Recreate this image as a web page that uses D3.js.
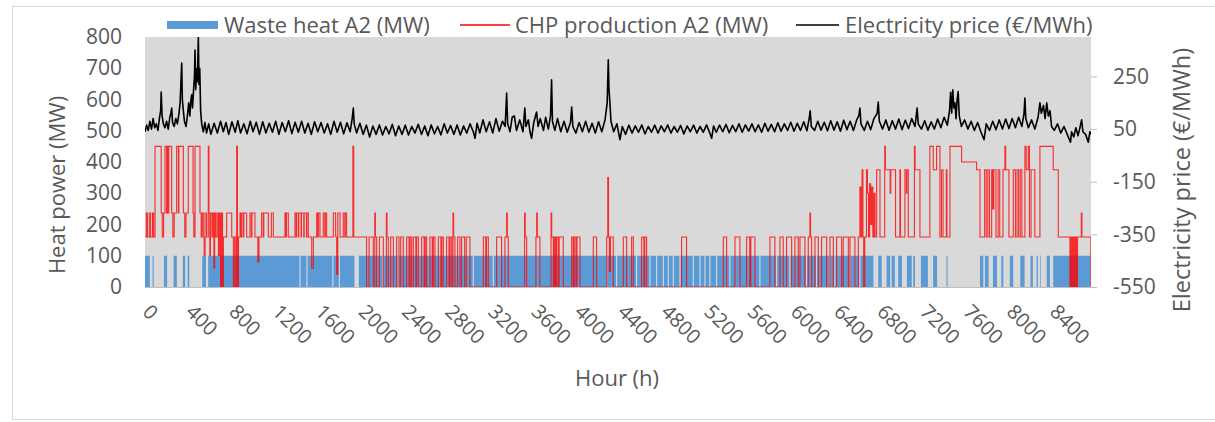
<!DOCTYPE html>
<html>
<head>
<meta charset="utf-8">
<script src="https://cdn.jsdelivr.net/npm/d3@7"></script>
<style>
  body { margin: 0; background: #fff; }
  text { font-family: "Open Sans", sans-serif; fill: #595959; }
</style>
</head>
<body>
<div class="chart"></div>
<script>
// ---- data ----
// hours where waste heat is on, [start, end]
var wasteOn = [[0,45],[70,80],[175,205],[265,295],[350,372],[395,410],[530,565],[585,1430],[1440,1495],[1505,1735],
  [1745,1795],[1805,1940],[1980,2200],[2212,2340],[2350,3035],[3045,3220],[3230,4270],[4280,4362],[4372,4547],
  [4557,4671],[4681,4733],[4743,4795],[4805,4841],[4851,4887],[4897,4949],[4959,5072],[5082,5134],[5144,5180],
  [5190,5226],[5236,5288],[5298,5411],[5421,5689],[5699,5844],[5854,5967],[5977,6121],[6131,6214],[6224,6338],
  [6348,6384],[6394,6523],[6533,6615],[6625,6745],[6790,6822],[6867,6900],[6914,6944],[6975,7010],[7055,7100],
  [7114,7130],[7185,7250],[7298,7335],[7422,7432],[7732,7763],[7778,7812],[7852,7890],[7930,7948],[8008,8040],
  [8105,8145],[8200,8222],[8256,8268],[8290,8296],[8350,8380],[8410,8755]];
var wasteMW = 100;

// CHP production, [hour, MW] held until next point
var chpSteps = [[0,160],[12,237],[22,160],[40,237],[52,160],[70,237],[80,160],[93,450],[150,237],[160,160],
  [172,237],[185,450],[200,237],[205,450],[215,237],[220,450],[247,237],[258,160],[270,237],[293,450],
  [310,237],[314,450],[355,237],[368,160],[380,237],[401,450],[445,237],[452,160],[463,450],[509,237],
  [520,160],[528,237],[540,160],[548,100],[556,237],[570,160],[586,450],[592,237],[600,100],[606,237],
  [620,160],[630,237],[638,60],[645,237],[655,160],[668,237],[680,100],[690,237],[700,0],[708,237],
  [718,0],[726,160],[756,237],[803,160],[818,0],[830,160],[842,0],[849,450],[856,0],[866,160],
  [880,237],[890,160],[895,237],[910,160],[915,237],[941,160],[972,237],[985,160],[990,237],[1018,160],
  [1045,80],[1055,160],[1080,237],[1095,160],[1100,237],[1142,160],[1170,237],[1188,160],[1296,237],[1305,160],
  [1310,237],[1327,160],[1389,237],[1400,160],[1404,237],[1420,160],[1424,237],[1445,160],[1449,237],[1470,160],
  [1474,237],[1495,160],[1499,237],[1512,160],[1544,60],[1559,160],[1590,237],[1600,160],[1605,237],[1620,160],
  [1651,237],[1665,160],[1670,237],[1682,160],[1744,237],[1765,160],[1775,40],[1785,237],[1806,160],[1836,237],
  [1850,160],[1855,237],[1867,160],[1925,450],[1933,160],[2052,0],[2075,160],[2114,0],[2128,237],[2134,160],
  [2145,0],[2170,160],[2207,0],[2235,237],[2241,160],[2253,0],[2275,160],[2300,0],[2330,160],[2352,0],
  [2368,160],[2392,0],[2423,160],[2445,0],[2455,160],[2469,0],[2485,160],[2508,0],[2515,160],[2531,0],
  [2562,160],[2585,0],[2595,160],[2608,0],[2639,160],[2660,0],[2670,160],[2685,0],[2716,160],[2740,0],
  [2748,160],[2762,0],[2793,160],[2815,0],[2825,160],[2840,0],[2852,237],[2858,160],[2870,0],[2895,160],
  [2917,0],[2932,160],[2960,0],[2975,160],[3009,0],[3133,160],[3155,0],[3162,160],[3179,0],[3256,160],
  [3302,0],[3333,160],[3349,237],[3355,160],[3364,0],[3515,237],[3521,160],[3534,0],[3620,160],[3627,237],
  [3633,160],[3657,0],[3760,237],[3766,160],[3781,0],[3790,160],[3800,0],[3810,160],[3825,0],[3835,160],
  [3873,0],[3951,160],[3965,0],[3975,160],[3990,0],[4000,160],[4028,0],[4151,160],[4182,0],[4275,160],
  [4285,350],[4292,160],[4300,50],[4310,160],[4336,0],[4429,160],[4460,0],[4506,160],[4522,0],[4599,160],
  [4620,0],[4628,160],[4645,0],[4969,160],[5015,0],[5355,160],[5386,0],[5463,160],[5509,0],[5571,160],
  [5600,0],[5610,160],[5648,0],[5787,160],[5833,0],[5880,160],[5910,0],[5941,160],[5988,0],[6018,160],
  [6049,0],[6065,160],[6111,0],[6142,160],[6157,237],[6163,160],[6173,0],[6204,160],[6235,0],[6265,160],
  [6312,0],[6343,160],[6374,0],[6404,160],[6451,0],[6466,160],[6513,0],[6528,160],[6574,0],[6605,160],
  [6620,320],[6630,160],[6640,375],[6648,160],[6655,0],[6665,160],[6681,375],[6690,300],[6700,160],[6710,330],
  [6720,200],[6730,320],[6740,160],[6750,300],[6760,160],[6775,375],[6806,160],[6850,450],[6856,375],[6900,300],
  [6906,375],[6950,160],[6990,375],[6996,160],[7037,375],[7050,300],[7055,375],[7068,160],[7125,450],[7131,375],
  [7176,160],[7268,450],[7299,375],[7330,450],[7361,160],[7375,375],[7390,160],[7420,375],[7426,160],[7454,450],
  [7562,400],[7700,375],[7732,160],[7775,375],[7790,160],[7805,375],[7820,160],[7840,375],[7850,250],[7860,375],
  [7880,160],[7900,375],[7915,160],[7945,375],[7963,450],[7970,375],[8000,160],[8040,375],[8060,160],[8075,375],
  [8090,160],[8105,375],[8120,160],[8148,450],[8160,375],[8179,450],[8190,160],[8205,375],[8240,160],[8287,450],
  [8410,375],[8457,160],[8565,0],[8575,160],[8585,0],[8595,160],[8605,0],[8615,160],[8625,0],[8635,160],
  [8670,237],[8676,160],[8759,0],[8760,0]];

// electricity price, [hour, EUR/MWh]
var pricePts = [[0,40],[15,65],[30,45],[45,80],[60,50],[75,90],[90,55],[105,70],[120,45],[135,95],
  [145,120],[150,191],[158,100],[170,70],[185,55],[200,80],[215,50],[230,95],[240,110],[247,130],
  [255,75],[270,60],[285,90],[300,70],[315,110],[325,150],[333,230],[340,301],[346,160],[355,120],
  [365,80],[380,60],[395,110],[405,150],[415,100],[425,160],[432,180],[440,130],[450,200],[458,250],
  [463,350],[470,200],[478,280],[485,230],[490,330],[494,400],[500,220],[507,280],[515,120],[525,70],
  [540,40],[555,75],[570,35],[590,70],[610,30],[640,72],[670,35],[700,80],[725,40],[750,75],
  [775,30],[805,78],[835,38],[860,82],[885,35],[915,70],[945,32],[975,80],[1000,40],[1030,76],
  [1060,30],[1090,78],[1120,35],[1150,72],[1180,38],[1210,80],[1240,30],[1270,75],[1300,40],[1330,82],
  [1360,33],[1390,76],[1420,38],[1450,80],[1480,35],[1510,72],[1540,30],[1570,78],[1600,40],[1630,75],
  [1660,35],[1690,70],[1720,30],[1750,80],[1780,38],[1810,76],[1840,32],[1870,74],[1900,40],[1920,95],
  [1929,130],[1937,70],[1960,35],[1990,72],[2020,30],[2050,65],[2080,20],[2110,62],[2140,30],[2170,66],
  [2200,28],[2230,60],[2260,32],[2290,68],[2320,25],[2350,62],[2380,30],[2410,65],[2440,28],[2470,60],
  [2500,35],[2530,68],[2560,30],[2590,62],[2620,25],[2650,66],[2680,32],[2710,60],[2740,28],[2770,70],
  [2800,35],[2830,64],[2860,30],[2890,66],[2920,28],[2950,62],[2980,35],[3010,70],[3040,40],[3056,15],
  [3075,72],[3100,35],[3130,85],[3160,40],[3190,78],[3220,35],[3250,90],[3280,42],[3310,80],[3335,60],
  [3349,187],[3358,70],[3380,40],[3400,95],[3420,100],[3440,45],[3470,85],[3500,40],[3517,130],[3527,60],
  [3550,85],[3565,40],[3580,15],[3600,75],[3626,115],[3640,60],[3660,90],[3690,45],[3710,95],[3735,50],
  [3755,100],[3765,237],[3773,80],[3795,45],[3820,90],[3850,40],[3880,80],[3910,38],[3940,75],[3951,134],
  [3962,60],[3990,35],[4020,75],[4050,40],[4080,80],[4110,38],[4140,72],[4170,35],[4200,78],[4230,40],
  [4260,85],[4280,150],[4290,313],[4296,206],[4305,150],[4315,80],[4340,40],[4370,70],[4398,10],[4420,60],
  [4450,30],[4480,65],[4510,35],[4540,62],[4570,38],[4600,66],[4630,32],[4660,60],[4690,38],[4720,65],
  [4750,35],[4780,62],[4810,40],[4840,66],[4870,35],[4900,60],[4930,38],[4960,64],[4990,32],[5020,62],
  [5050,40],[5080,65],[5110,35],[5140,60],[5170,38],[5200,66],[5230,35],[5247,15],[5265,62],[5290,38],
  [5320,65],[5350,40],[5380,68],[5410,36],[5440,64],[5470,40],[5500,70],[5530,38],[5560,66],[5590,42],
  [5620,70],[5650,40],[5680,66],[5710,38],[5740,72],[5770,42],[5800,68],[5830,40],[5860,74],[5890,42],
  [5920,70],[5950,45],[5980,76],[6010,42],[6040,72],[6070,45],[6100,78],[6130,44],[6150,90],[6160,120],
  [6170,60],[6200,45],[6230,80],[6260,46],[6290,76],[6320,44],[6350,82],[6380,46],[6410,78],[6440,42],
  [6470,84],[6500,48],[6530,80],[6560,45],[6590,85],[6610,100],[6620,130],[6630,70],[6660,45],[6690,80],
  [6720,48],[6750,90],[6780,110],[6790,153],[6800,80],[6830,50],[6860,85],[6890,46],[6920,82],[6950,50],
  [6980,88],[7010,48],[7040,84],[7070,52],[7100,90],[7130,60],[7150,130],[7160,70],[7190,50],[7220,82],
  [7250,46],[7280,78],[7310,50],[7340,88],[7370,55],[7400,95],[7430,65],[7450,120],[7460,190],[7470,110],
  [7480,199],[7490,130],[7500,150],[7510,90],[7520,160],[7530,193],[7540,100],[7560,60],[7590,85],[7620,50],
  [7650,80],[7680,45],[7710,75],[7740,40],[7770,10],[7790,70],[7820,45],[7850,80],[7880,48],[7910,85],
  [7940,50],[7970,88],[8000,52],[8030,90],[8060,55],[8090,95],[8120,60],[8140,110],[8148,168],[8156,90],
  [8180,55],[8210,85],[8240,50],[8270,95],[8287,150],[8300,110],[8320,140],[8335,90],[8350,150],[8365,100],
  [8380,120],[8395,60],[8420,45],[8450,70],[8480,35],[8510,60],[8540,30],[8570,0],[8580,40],[8600,20],
  [8620,55],[8640,25],[8660,60],[8673,85],[8685,40],[8710,30],[8735,0],[8750,40],[8760,30]];

var xTicks = [0,400,800,1200,1600,2000,2400,2800,3200,3600,4000,4400,4800,5200,5600,6000,6400,6800,7200,7600,8000,8400];
var leftTicks = [0,100,200,300,400,500,600,700,800];
var rightTicks = [-550,-350,-150,50,250];
var legendLabels = ["Waste heat A2 (MW)", "CHP production A2 (MW)", "Electricity price (\u20ac/MWh)"];

// ---- layout ----
var svgWidth = 1215;
var svgHeight = 422;
var plot = { left: 145, right: 1091, top: 37, bottom: 287 };

var svg = d3.select(".chart")
  .append("svg")
  .attr("width", svgWidth)
  .attr("height", svgHeight);

// outer chart border
svg.append("rect")
  .attr("x", 12.5).attr("y", 6.5)
  .attr("width", 1230).attr("height", 413)
  .attr("fill", "#fff")
  .attr("stroke", "#d9d9d9");

var xScale = d3.scaleLinear().domain([0, 8760]).range([plot.left, plot.right]);
var yLeft = d3.scaleLinear().domain([0, 800]).range([plot.bottom, plot.top]);
var yRight = d3.scaleLinear().domain([-550, 400]).range([plot.bottom, plot.top]);

svg.append("defs").append("clipPath").attr("id", "plotClip")
  .append("rect")
  .attr("x", plot.left).attr("y", plot.top)
  .attr("width", plot.right - plot.left).attr("height", plot.bottom - plot.top);

// plot area
svg.append("rect")
  .attr("x", plot.left).attr("y", plot.top)
  .attr("width", plot.right - plot.left).attr("height", plot.bottom - plot.top)
  .attr("fill", "#d9d9d9");

var marks = svg.append("g").attr("clip-path", "url(#plotClip)");

// waste heat columns
marks.selectAll("rect.waste")
  .data(wasteOn)
  .enter()
  .append("rect")
  .attr("class", "waste")
  .attr("x", d => xScale(d[0]))
  .attr("width", d => xScale(d[1]) - xScale(d[0]))
  .attr("y", yLeft(wasteMW))
  .attr("height", yLeft(0) - yLeft(wasteMW))
  .attr("fill", "#5b9bd5");

// CHP production
var chpLine = d3.line()
  .curve(d3.curveStepAfter)
  .x(d => xScale(d[0]))
  .y(d => yLeft(d[1]));

marks.append("path")
  .datum(chpSteps)
  .attr("d", chpLine)
  .attr("fill", "none")
  .attr("stroke", "#ff0000")
  .attr("stroke-opacity", 0.8)
  .attr("stroke-width", 1.1);

// electricity price (secondary axis)
var priceLine = d3.line()
  .x(d => xScale(d[0]))
  .y(d => yRight(d[1]));

marks.append("path")
  .datum(pricePts)
  .attr("d", priceLine)
  .attr("fill", "none")
  .attr("stroke", "#000")
  .attr("stroke-width", 1.6)
  .attr("stroke-linejoin", "round");

// x axis
var xAxis = svg.append("g")
  .attr("transform", `translate(0, ${plot.bottom})`)
  .call(d3.axisBottom(xScale).tickValues(xTicks).tickSize(0).tickFormat(d => String(d)));
xAxis.select(".domain").attr("stroke", "#bfbfbf");
xAxis.selectAll("text")
  .attr("x", 0).attr("y", 0)
  .attr("dy", "0.35em")
  .attr("text-anchor", "start")
  .attr("transform", "translate(1, 21) rotate(45)")
  .style("font-size", "20px")
  .attr("font-family", null);

// left axis
var leftAxis = svg.append("g")
  .attr("transform", `translate(${plot.left}, 0)`)
  .call(d3.axisLeft(yLeft).tickValues(leftTicks).tickSize(0).tickPadding(23));
leftAxis.select(".domain").remove();
leftAxis.selectAll("text").style("font-size", "21px").attr("font-family", null);

// right axis
var rightAxis = svg.append("g")
  .attr("transform", `translate(${plot.right}, 0)`)
  .call(d3.axisRight(yRight).tickValues(rightTicks).tickSize(6).tickPadding(16).tickFormat(d => String(d)));
rightAxis.select(".domain").remove();
rightAxis.selectAll("line").attr("stroke", "#bfbfbf");
rightAxis.selectAll("text").style("font-size", "21px").attr("font-family", null);

// axis titles
svg.append("text")
  .attr("transform", "translate(65, 185) rotate(-90)")
  .attr("text-anchor", "middle")
  .style("font-size", "22px")
  .text("Heat power (MW)");

svg.append("text")
  .attr("transform", "translate(1190, 180) rotate(-90)")
  .attr("text-anchor", "middle")
  .style("font-size", "23.5px")
  .text("Electricity price (\u20ac/MWh)");

svg.append("text")
  .attr("x", 617).attr("y", 386)
  .attr("text-anchor", "middle")
  .style("font-size", "22px")
  .text("Hour (h)");

// legend
var legend = svg.append("g");
legend.append("rect")
  .attr("x", 167).attr("y", 21).attr("width", 51).attr("height", 8)
  .attr("fill", "#5b9bd5");
legend.append("line")
  .attr("x1", 460).attr("x2", 510).attr("y1", 25).attr("y2", 25)
  .attr("stroke", "#ff0000").attr("stroke-width", 1.3);
legend.append("line")
  .attr("x1", 796).attr("x2", 839).attr("y1", 25).attr("y2", 25)
  .attr("stroke", "#000").attr("stroke-width", 1.3);

var legendX = [224, 515, 845];
legend.selectAll("text.leg")
  .data(legendLabels)
  .enter()
  .append("text")
  .attr("class", "leg")
  .attr("x", (d, i) => legendX[i])
  .attr("y", 25)
  .attr("dy", "0.35em")
  .style("font-size", "22px")
  .text(d => d);
</script>
</body>
</html>
